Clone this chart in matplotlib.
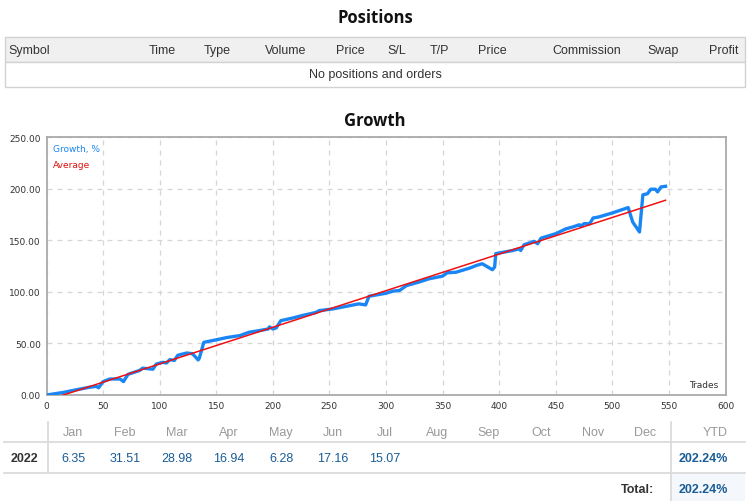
import matplotlib
matplotlib.use("Agg")
import matplotlib.pyplot as plt
from matplotlib.patches import Rectangle

# growth curve (trade number, growth %)
trades = [0, 15, 26, 38, 44, 46, 50, 56, 65, 68, 72, 79, 82, 85, 94, 97, 103, 106, 109, 113,
          116, 124, 129, 134, 135, 139, 150, 159, 171, 179, 188, 196, 197, 200, 203, 207, 218, 226, 238, 241,
          253, 268, 276, 282, 285, 300, 306, 312, 318, 329, 338, 350, 354, 362, 374, 380, 385, 390, 394, 396,
          397, 412, 418, 419, 422, 431, 434, 437, 450, 459, 465, 471, 472, 475, 480, 483, 488, 500, 514, 518,
          524, 527, 531, 534, 538, 540, 543, 547]
growth = [0, 2.5, 5, 7.5, 8.4, 7, 13, 15.5, 15.5, 13, 20, 22.6, 23.6, 26, 25, 30, 31.7, 31, 34.3, 33.5,
          38.5, 40.7, 40, 34, 35.6, 51, 53.5, 55.6, 57.6, 60.8, 62.4, 64, 66, 64, 65, 72, 74.7, 77, 80, 81.8,
          83.4, 86.6, 88.3, 87.3, 95.7, 98.6, 100.6, 101.3, 106, 109.4, 112.6, 115.2, 118.4, 119, 123, 125.6, 127.2, 124, 121.4, 124,
          137, 140, 141.7, 140, 145.6, 148.9, 146.6, 152, 156.3, 161, 162.8, 165, 163.4, 166, 166, 171.5, 172.5, 176.4, 181.6, 167.6,
          158, 194, 195, 199.4, 199.4, 196.8, 201.6, 202.24]
avg_x = [0, 547]
avg_y = [-5.3, 188.7]

pos_cols = ["Symbol", "Time", "Type", "Volume", "Price", "S/L", "T/P", "Price", "Commission", "Swap", "Profit"]
months = ["Jan", "Feb", "Mar", "Apr", "May", "Jun", "Jul", "Aug", "Sep", "Oct", "Nov", "Dec"]
month_vals = ["6.35", "31.51", "28.98", "16.94", "6.28", "17.16", "15.07"]
year = "2022"
ytd = "202.24%"
total = "202.24%"

W, H = 750, 502
fig = plt.figure(figsize=(W / 100, H / 100), dpi=100)

# background axes in pixel coordinates for the table parts
bg = fig.add_axes([0, 0, 1, 1])
bg.set_xlim(0, W)
bg.set_ylim(H, 0)
bg.axis("off")

narrow = ["Liberation Sans Narrow", "Liberation Sans", "DejaVu Sans"]
title_font = ["Open Sans", "DejaVu Sans"]
fs = 9

bg.text(375, 18, "Positions", ha="center", va="center", fontsize=12, fontweight="bold",
        family=title_font, color="#111111")
bg.add_patch(Rectangle((5, 38), 740, 25, facecolor="#f0f0f0", edgecolor="#d2d2d2", lw=1))
bg.add_patch(Rectangle((5, 63), 740, 25, facecolor="white", edgecolor="#d2d2d2", lw=1))
col_x = [8, 162, 217, 286, 350, 397, 439, 492, 587, 663, 724]
for i, c in enumerate(pos_cols):
    bg.text(col_x[i], 51, c, ha="left" if i == 0 else "center", va="center",
            fontsize=fs, family=narrow, color="#333333")
bg.text(375, 75, "No positions and orders", ha="center", va="center", fontsize=fs,
        family=narrow, color="#333333")

bg.text(375, 121, "Growth", ha="center", va="center", fontsize=12, fontweight="bold",
        family=title_font, color="#111111")

# monthly table
bg.add_patch(Rectangle((672, 474), 73, 28, facecolor="#f4f7fc", edgecolor="none"))
bg.plot([4, 745], [443, 443], color="#d8d8d8", lw=1.2)
bg.plot([4, 745], [474, 474], color="#d8d8d8", lw=1.2)
bg.plot([48, 48], [423, 474], color="#d8d8d8", lw=1.2)
bg.plot([671, 671], [423, 502], color="#d8d8d8", lw=1.2)
for i, m in enumerate(months):
    bg.text(73 + 52 * i, 433, m, ha="center", va="center", fontsize=fs, family=narrow, color="#999999")
bg.text(728, 433, "YTD", ha="right", va="center", fontsize=fs, family=narrow, color="#999999")
bg.text(38, 459, year, ha="right", va="center", fontsize=fs, family=narrow, color="#333333", fontweight="bold")
for i, v in enumerate(month_vals):
    bg.text(73 + 52 * i, 459, v, ha="center", va="center", fontsize=fs, family=narrow, color="#1a5d96")
bg.text(728, 459, ytd, ha="right", va="center", fontsize=fs, family=narrow, color="#1a5d96", fontweight="bold")
bg.text(654, 490, "Total:", ha="right", va="center", fontsize=fs, family=narrow, color="#333333", fontweight="bold")
bg.text(728, 490, total, ha="right", va="center", fontsize=fs, family=narrow, color="#1a5d96", fontweight="bold")

# growth chart
ax = fig.add_axes([46.5 / W, 1 - 396 / H, 679 / W, 258 / H])
ax.plot(trades, growth, color="#1a86f5", lw=2.4, solid_joinstyle="round", zorder=3)
ax.plot(avg_x, avg_y, color="#ee1111", lw=1.1, zorder=4)
ax.set_xlim(0, 600)
ax.set_ylim(0, 250)
ax.set_xticks(range(0, 601, 50))
ax.set_yticks(range(0, 251, 50))
ax.set_yticklabels(["%.2f" % v for v in range(0, 251, 50)])
ax.tick_params(length=0, labelsize=6.5, colors="#333333", pad=4)
ax.grid(True, color="#d6d6d6", ls=(0, (4, 4)), lw=0.9)
for s in ax.spines.values():
    s.set_color("#aaaaaa")
    s.set_linewidth(1.3)
ax.text(0.01, 0.955, "Growth, %", transform=ax.transAxes, fontsize=6.5, color="#1a86f5", va="center")
ax.text(0.01, 0.895, "Average", transform=ax.transAxes, fontsize=6.5, color="#dd1111", va="center")
ax.text(0.99, 0.04, "Trades", transform=ax.transAxes, fontsize=6.5, color="#333333", ha="right", va="center")

fig.savefig("out.png", dpi=100)
